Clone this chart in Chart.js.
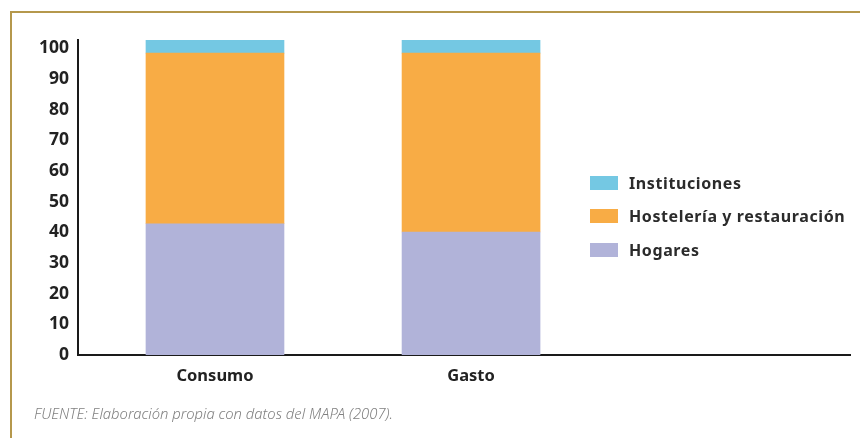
<!DOCTYPE html>
<html>
<head>
<meta charset="utf-8">
<script src="https://cdn.jsdelivr.net/npm/chart.js@4"></script>
<style>
  body { margin: 0; background: #fff; width: 860px; height: 438px; overflow: hidden; position: relative; font-family: "Noto Sans", sans-serif; }
  #frame { position: absolute; left: 10px; top: 11px; width: 850px; height: 427px; border-top: 2px solid #b5984c; border-left: 2px solid #b5984c; box-sizing: border-box; }
  #wrap { position: absolute; left: 0; top: 0; width: 860px; height: 438px; }
  #legend { position: absolute; left: 590px; top: 166px; }
  .item { display: flex; align-items: center; height: 33.5px; font-weight: 700; font-size: 16px; letter-spacing: 0.6px; color: #2b2b2b; white-space: nowrap; }
  .sw { width: 28px; height: 14px; margin-right: 11px; }
  #note { position: absolute; left: 34px; top: 403px; font-size: 14.8px; font-style: italic; font-weight: 300; color: #808080; white-space: nowrap; }
</style>
</head>
<body>
<div id="frame"></div>
<div id="wrap"><canvas id="chart" width="860" height="438"></canvas></div>
<div id="legend"></div>
<div id="note">FUENTE: Elaboración propia con datos del MAPA (2007).</div>
<script>
const categories = ['Consumo', 'Gasto'];
const hogares = [42.8, 40.1];
const hosteleria = [55.6, 58.3];
const instituciones = [4.3, 4.3];
const yTicks = [0, 10, 20, 30, 40, 50, 60, 70, 80, 90, 100];

const series = [
    { label: 'Hogares', data: hogares, color: '#b1b3d9' },
    { label: 'Hostelería y restauración', data: hosteleria, color: '#f8ac45' },
    { label: 'Instituciones', data: instituciones, color: '#74c8e3' }
];

// legend, top to bottom is reverse of stack order
const legend = document.getElementById('legend');
series.slice().reverse().forEach((s) => {
    const row = document.createElement('div');
    row.className = 'item';
    row.innerHTML = `<span class="sw" style="background:${s.color}"></span>${s.label}`;
    legend.appendChild(row);
});

const config = {
    type: 'bar',
    data: {
        datasets: series.map((s) => ({
            label: s.label,
            data: s.data.map((v, i) => ({ x: i, y: v })),
            backgroundColor: s.color,
            borderWidth: 0,
            barThickness: 138
        }))
    },
    options: {
        responsive: false,
        animation: false,
        layout: { padding: { top: 40, right: 10, left: 0, bottom: 0 } },
        plugins: {
            legend: { display: false },
            tooltip: { enabled: false }
        },
        scales: {
            x: {
                type: 'linear',
                stacked: true,
                offset: false,
                min: -0.535,
                max: 2.48,
                grid: { display: false, drawTicks: false, offset: false },
                border: { display: true, color: '#1a1a1a', width: 2 },
                afterBuildTicks: (scale) => { scale.ticks = categories.map((c, i) => ({ value: i })); },
                afterFit: (scale) => { scale.height = 83; },
                ticks: {
                    color: '#222',
                    font: { family: '"Noto Sans", sans-serif', size: 16.5, weight: '700' },
                    padding: 11,
                    maxRotation: 0,
                    autoSkip: false,
                    callback: (v) => categories[v]
                }
            },
            y: {
                stacked: true,
                min: 0,
                max: 102.7,
                grid: { display: false, drawTicks: false },
                border: { display: true, color: '#1a1a1a', width: 2 },
                afterBuildTicks: (scale) => { scale.ticks = yTicks.map((v) => ({ value: v })); },
                afterFit: (scale) => { scale.width = 78; },
                ticks: {
                    color: '#222',
                    font: { family: '"Noto Sans", sans-serif', size: 17.5, weight: '700' },
                    padding: 9
                }
            }
        }
    }
};

const myChart = new Chart(document.getElementById('chart'), config);
</script>
</body>
</html>
